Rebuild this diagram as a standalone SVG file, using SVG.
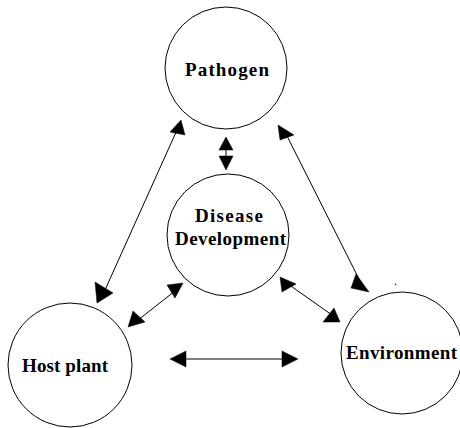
<svg xmlns="http://www.w3.org/2000/svg" width="460" height="428" viewBox="0 0 460 428">
<style>
.node{fill:#fff;stroke:#000;stroke-width:1}
.lbl{font-family:"Liberation Serif","Times New Roman",serif;font-weight:bold;font-size:19px;fill:#000}
.ln{stroke:#000;stroke-width:1;fill:none}
.hd{fill:#000;stroke:#000;stroke-width:0.5}
</style>
<rect width="460" height="428" fill="#fff"/>
<g id="pathogen">
<circle class="node" cx="226" cy="68" r="61"/>
<text class="lbl" x="185" y="76" textLength="84" lengthAdjust="spacing">Pathogen</text>
</g>
<g id="disease">
<circle class="node" cx="228" cy="235" r="61"/>
<text class="lbl" x="195" y="222" textLength="68" lengthAdjust="spacing">Disease</text>
<text class="lbl" x="175" y="245" textLength="111" lengthAdjust="spacing">Development</text>
</g>
<g id="host">
<circle class="node" cx="70" cy="365" r="62"/>
<text class="lbl" x="22" y="372" textLength="86" lengthAdjust="spacing">Host plant</text>
</g>
<g id="environment">
<circle class="node" cx="402" cy="353" r="61"/>
<text class="lbl" x="346" y="359" textLength="111" lengthAdjust="spacing">Environment</text>
<text x="394" y="285" font-family="Liberation Serif, serif" font-size="12" fill="#000">.</text>
</g>
<g id="connectors">
<line class="ln" x1="177" y1="130" x2="105" y2="290"/>
<polygon class="hd" points="181,120 170,132 185,135"/>
<polygon class="hd" points="95,282 97,303 113,293"/>
<line class="ln" x1="286" y1="134" x2="362" y2="285"/>
<polygon class="hd" points="278,125 280,140 294,135"/>
<polygon class="hd" points="356,274 351,288 369,292"/>
<line class="ln" x1="226" y1="149" x2="226" y2="156"/>
<polygon class="hd" points="226,137 219,150 233,150"/>
<polygon class="hd" points="219,156 233,156 226,170"/>
<line class="ln" x1="175" y1="291" x2="138" y2="320"/>
<polygon class="hd" points="183,283 167,285 175,298"/>
<polygon class="hd" points="128,327 133,311 145,322"/>
<line class="ln" x1="288" y1="284" x2="332" y2="315"/>
<polygon class="hd" points="280,277 282,292 296,284"/>
<polygon class="hd" points="334,308 323,322 340,322"/>
<line class="ln" x1="180" y1="359" x2="288" y2="359"/>
<polygon class="hd" points="170,359 186,351 186,367"/>
<polygon class="hd" points="298,359 282,351 282,367"/>
</g>
</svg>
